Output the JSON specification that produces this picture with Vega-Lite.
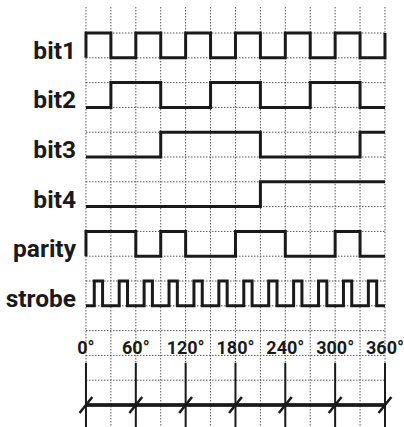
{
  "$schema": "https://vega.github.io/schema/vega-lite/v6.json",
  "width": 404,
  "height": 427,
  "padding": 0,
  "autosize": {"type": "none"},
  "background": "white",
  "config": {"view": {"stroke": null}},
  "datasets": {
    "vgrid": [{"t": 0}, {"t": 30}, {"t": 60}, {"t": 90}, {"t": 120}, {"t": 150}, {"t": 180}, {"t": 210}, {"t": 240}, {"t": 270}, {"t": 300}, {"t": 330}, {"t": 360}],
    "hgrid": [{"v": 1}, {"v": 2}, {"v": 3}, {"v": 4}, {"v": 5}, {"v": 6}, {"v": 7}, {"v": 8}, {"v": 9}, {"v": 10}, {"v": 11}, {"v": 12}, {"v": 13}, {"v": 14}, {"v": 15}],
    "waves": [
      {"signal": "bit1", "i": 0, "t": 0, "v": 14}, {"signal": "bit1", "i": 1, "t": 0, "v": 15}, {"signal": "bit1", "i": 2, "t": 30, "v": 14}, {"signal": "bit1", "i": 3, "t": 60, "v": 15}, {"signal": "bit1", "i": 4, "t": 90, "v": 14}, {"signal": "bit1", "i": 5, "t": 120, "v": 15}, {"signal": "bit1", "i": 6, "t": 150, "v": 14}, {"signal": "bit1", "i": 7, "t": 180, "v": 15}, {"signal": "bit1", "i": 8, "t": 210, "v": 14}, {"signal": "bit1", "i": 9, "t": 240, "v": 15}, {"signal": "bit1", "i": 10, "t": 270, "v": 14}, {"signal": "bit1", "i": 11, "t": 300, "v": 15}, {"signal": "bit1", "i": 12, "t": 330, "v": 14}, {"signal": "bit1", "i": 13, "t": 360, "v": 15},
      {"signal": "bit2", "i": 0, "t": 0, "v": 12}, {"signal": "bit2", "i": 1, "t": 30, "v": 13}, {"signal": "bit2", "i": 2, "t": 90, "v": 12}, {"signal": "bit2", "i": 3, "t": 150, "v": 13}, {"signal": "bit2", "i": 4, "t": 210, "v": 12}, {"signal": "bit2", "i": 5, "t": 270, "v": 13}, {"signal": "bit2", "i": 6, "t": 330, "v": 12}, {"signal": "bit2", "i": 7, "t": 360, "v": 12},
      {"signal": "bit3", "i": 0, "t": 0, "v": 10}, {"signal": "bit3", "i": 1, "t": 90, "v": 11}, {"signal": "bit3", "i": 2, "t": 210, "v": 10}, {"signal": "bit3", "i": 3, "t": 330, "v": 11}, {"signal": "bit3", "i": 4, "t": 360, "v": 11},
      {"signal": "bit4", "i": 0, "t": 0, "v": 8}, {"signal": "bit4", "i": 1, "t": 210, "v": 9}, {"signal": "bit4", "i": 2, "t": 360, "v": 9},
      {"signal": "parity", "i": 0, "t": 0, "v": 6}, {"signal": "parity", "i": 1, "t": 0, "v": 7}, {"signal": "parity", "i": 2, "t": 60, "v": 6}, {"signal": "parity", "i": 3, "t": 90, "v": 7}, {"signal": "parity", "i": 4, "t": 120, "v": 6}, {"signal": "parity", "i": 5, "t": 180, "v": 7}, {"signal": "parity", "i": 6, "t": 240, "v": 6}, {"signal": "parity", "i": 7, "t": 300, "v": 7}, {"signal": "parity", "i": 8, "t": 330, "v": 6}, {"signal": "parity", "i": 9, "t": 360, "v": 6},
      {"signal": "strobe", "i": 0, "t": 0, "v": 4}, {"signal": "strobe", "i": 1, "t": 10, "v": 5}, {"signal": "strobe", "i": 2, "t": 20, "v": 4}, {"signal": "strobe", "i": 3, "t": 40, "v": 5}, {"signal": "strobe", "i": 4, "t": 50, "v": 4}, {"signal": "strobe", "i": 5, "t": 70, "v": 5}, {"signal": "strobe", "i": 6, "t": 80, "v": 4}, {"signal": "strobe", "i": 7, "t": 100, "v": 5}, {"signal": "strobe", "i": 8, "t": 110, "v": 4}, {"signal": "strobe", "i": 9, "t": 130, "v": 5}, {"signal": "strobe", "i": 10, "t": 140, "v": 4}, {"signal": "strobe", "i": 11, "t": 160, "v": 5}, {"signal": "strobe", "i": 12, "t": 170, "v": 4}, {"signal": "strobe", "i": 13, "t": 190, "v": 5}, {"signal": "strobe", "i": 14, "t": 200, "v": 4}, {"signal": "strobe", "i": 15, "t": 220, "v": 5}, {"signal": "strobe", "i": 16, "t": 230, "v": 4}, {"signal": "strobe", "i": 17, "t": 250, "v": 5}, {"signal": "strobe", "i": 18, "t": 260, "v": 4}, {"signal": "strobe", "i": 19, "t": 280, "v": 5}, {"signal": "strobe", "i": 20, "t": 290, "v": 4}, {"signal": "strobe", "i": 21, "t": 310, "v": 5}, {"signal": "strobe", "i": 22, "t": 320, "v": 4}, {"signal": "strobe", "i": 23, "t": 340, "v": 5}, {"signal": "strobe", "i": 24, "t": 350, "v": 4}, {"signal": "strobe", "i": 25, "t": 360, "v": 4}
    ],
    "labels": [{"label": "bit1", "v": 14}, {"label": "bit2", "v": 12}, {"label": "bit3", "v": 10}, {"label": "bit4", "v": 8}, {"label": "parity", "v": 6}, {"label": "strobe", "v": 4}],
    "degs": [{"t": 0, "label": "0°"}, {"t": 60, "label": "60°"}, {"t": 120, "label": "120°"}, {"t": 180, "label": "180°"}, {"t": 240, "label": "240°"}, {"t": 300, "label": "300°"}, {"t": 360, "label": "360°"}]
  },
  "layer": [
    {
      "data": {"name": "vgrid"},
      "mark": {"type": "rule", "stroke": "#555", "strokeWidth": 1, "strokeDash": [1.5, 1.5]},
      "encoding": {
        "x": {"field": "t", "type": "quantitative", "scale": {"domain": [-103.5, 382.9], "nice": false, "zero": false}, "axis": null},
        "y": {"datum": 16.05, "type": "quantitative", "scale": {"domain": [-0.887, 16.331], "nice": false, "zero": false}, "axis": null},
        "y2": {"datum": -0.887}
      }
    },
    {
      "data": {"name": "hgrid"},
      "mark": {"type": "rule", "stroke": "#555", "strokeWidth": 1, "strokeDash": [1.5, 1.5]},
      "encoding": {
        "x": {"datum": 0, "type": "quantitative"},
        "x2": {"datum": 360},
        "y": {"field": "v", "type": "quantitative"}
      }
    },
    {
      "data": {"name": "waves"},
      "mark": {"type": "line", "interpolate": "step-after", "stroke": "#1a1a1a", "strokeWidth": 3, "strokeJoin": "miter"},
      "encoding": {
        "x": {"field": "t", "type": "quantitative"},
        "y": {"field": "v", "type": "quantitative"},
        "detail": {"field": "signal"},
        "order": {"field": "i", "type": "quantitative"}
      }
    },
    {
      "data": {"name": "labels"},
      "mark": {"type": "text", "align": "right", "baseline": "alphabetic", "dy": 1, "font": "Roboto", "fontWeight": "bold", "fontSize": 24.5, "fill": "#1a1a1a"},
      "encoding": {
        "x": {"datum": -12, "type": "quantitative"},
        "y": {"field": "v", "type": "quantitative"},
        "text": {"field": "label"}
      }
    },
    {
      "data": {"name": "degs"},
      "mark": {"type": "text", "align": "center", "baseline": "alphabetic", "font": "Roboto", "fontWeight": "bold", "fontSize": 18, "fill": "#1a1a1a"},
      "encoding": {
        "x": {"field": "t", "type": "quantitative"},
        "y": {"datum": 2.06, "type": "quantitative"},
        "text": {"field": "label"}
      }
    },
    {
      "data": {"name": "degs"},
      "mark": {"type": "rule", "stroke": "#1a1a1a", "strokeWidth": 2},
      "encoding": {
        "x": {"field": "t", "type": "quantitative"},
        "y": {"datum": 1.7, "type": "quantitative"},
        "y2": {"datum": -0.887}
      }
    },
    {
      "data": {"name": "degs"},
      "mark": {"type": "rule", "stroke": "#1a1a1a", "strokeWidth": 2.5},
      "encoding": {
        "x": {"datum": 0, "type": "quantitative"},
        "x2": {"datum": 360},
        "y": {"datum": 0, "type": "quantitative"}
      }
    },
    {
      "data": {"name": "degs"},
      "mark": {"type": "point", "shape": "M -0.8 1 L 0.8 -1", "size": 256, "filled": false, "stroke": "#1a1a1a", "strokeWidth": 2.5, "opacity": 1},
      "encoding": {
        "x": {"field": "t", "type": "quantitative"},
        "y": {"datum": 0, "type": "quantitative"}
      }
    }
  ]
}
